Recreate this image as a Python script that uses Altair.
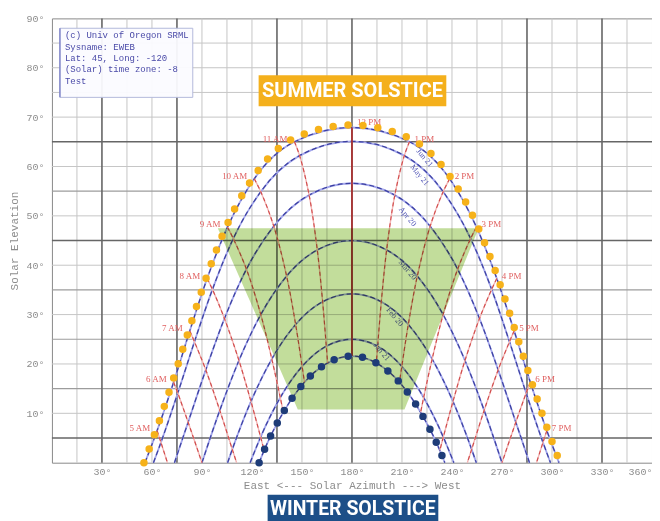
import altair as alt
import pandas as pd

N = None
hour_labels = ["5 AM", "6 AM", "7 AM", "8 AM", "9 AM", "10 AM", "11 AM", "12 PM",
               "1 PM", "2 PM", "3 PM", "4 PM", "5 PM", "6 PM", "7 PM"]
date_labels = ["Jun 21", "May 21", "Apr 20", "Mar 20", "Feb 20", "Jan 21", "Dec 21"]

# sun position (azimuth, elevation) read at each clock hour, per date curve
jun_az = [63.1, 73.0, 82.7, 93.1, 105.3, 121.4, 145.5, 180.0, 214.5, 238.6, 254.7, 266.9, 277.3, 287.0, 296.9]
jun_el = [6.5, 16.3, 26.7, 37.3, 47.7, 57.5, 65.0, 67.9, 65.0, 57.5, 47.7, 37.3, 26.7, 16.3, 6.5]
may_az = [65.4, 75.5, 85.5, 96.3, 108.8, 125.3, 148.6, 180.0, 211.4, 234.7, 251.2, 263.8, 274.5, 284.5, 294.6]
may_el = [4.1, 14.1, 24.5, 35.1, 45.4, 54.9, 62.2, 65.1, 62.2, 54.9, 45.4, 35.1, 24.5, 14.1, 4.1]
apr_az = [N, 81.7, 92.3, 103.5, 116.7, 133.1, 154.3, 180.0, 205.7, 226.9, 243.4, 256.5, 267.7, 278.3, N]
apr_el = [N, 8.2, 18.8, 29.2, 39.2, 47.9, 54.2, 56.6, 54.2, 47.9, 39.2, 29.2, 18.8, 8.2, N]
mar_az = [N, 90.0, 100.7, 112.2, 125.3, 140.8, 159.2, 180.0, 200.8, 219.2, 234.7, 247.8, 259.3, 270.0, N]
mar_el = [N, 0.0, 10.6, 20.7, 30.0, 37.8, 43.1, 45.0, 43.1, 37.8, 30.0, 20.7, 10.6, 0.0, N]
feb_az = [N, N, 108.2, 119.4, 131.9, 146.2, 162.4, 180.0, 197.6, 213.8, 228.1, 240.6, 251.8, N, N]
feb_el = [N, N, 2.7, 12.4, 21.0, 28.0, 32.6, 34.2, 32.6, 28.0, 21.0, 12.4, 2.7, N, N]
jan_az = [N, N, N, 125.2, 137.0, 150.1, 164.6, 180.0, 195.4, 209.9, 223.0, 234.8, N, N, N]
jan_el = [N, N, N, 5.2, 13.2, 19.5, 23.6, 25.0, 23.6, 19.5, 13.2, 5.2, N, N, N]
dec_az = [N, N, N, 127.3, 138.8, 151.5, 165.4, 180.0, 194.6, 208.5, 221.2, 232.7, N, N, N]
dec_el = [N, N, N, 2.5, 10.2, 16.3, 20.2, 21.6, 20.2, 16.3, 10.2, 2.5, N, N, N]

# where each date curve meets the horizon
sunrise_az = [55.8, 60.9, 73.5, N, 105.4, 118.9, 124.3]
sunset_az = [304.2, 299.1, 286.5, N, 254.6, 241.1, 235.7]
# where an hour line meets the horizon
horizon_az = [69.3, N, 110.8, N, N, N, N, N, N, N, N, N, 249.2, N, 290.7]

# dotted solstice highlight paths
summer_dot_az = [55.2, 62.6, 72.5, 82.3, 92.7, 104.9, 121.0, 145.3, 180.0, 214.7, 239.0, 255.1, 267.3, 277.7, 287.5, 297.4, 304.8]
summer_dot_el = [0.0, 6.7, 16.6, 27.0, 37.6, 48.1, 57.9, 65.7, 68.4, 65.7, 57.9, 48.1, 37.6, 27.0, 16.6, 6.7, 0.0]

# green window region
green_az = [99.5, 147.5, 211.5, 256.0]
green_top = [47.5, 47.5, 47.5, 47.5]
green_bottom = [47.5, 10.8, 10.8, 47.5]

# date curve labels
curve_label_text = ["Jun 21", "May 21", "Apr 20", "Mar 20", "Feb 20", "Jan 21"]
curve_label_az = [223.4, 220.4, 213.2, 213.2, 205.5, 197.7]
curve_label_el = [61.7, 58.2, 49.8, 39.0, 29.5, 22.4]

# grid
grid_az_light = [15, 45, 60, 90, 105, 120, 150, 165, 195, 210, 225, 240, 255, 270, 300, 315, 345]
grid_az_dark = [30, 75, 135, 180, 285, 330]
grid_el_light = [10, 20, 30, 40, 50, 60, 70, 75, 80, 85]
grid_el_medium = [15, 25, 35, 55]
grid_el_dark = [5, 45, 65]

# info box
info_lines = ["(c) Univ of Oregon SRML", "Sysname: EWEB", "Lat: 45, Long: -120",
              "(Solar) time zone: -8", "Test"]
info_line_el = [86.6, 84.3, 82.0, 79.7, 77.4]
info_box = {"az": 4.8, "az2": 84.5, "el": 74.0, "el2": 88.0}

# banners
banner_text = ["SUMMER SOLSTICE", "WINTER SOLSTICE"]
banner_size = [20, 19.5]
banner_az = [124.0, 129.4]
banner_az2 = [236.6, 231.8]
banner_el = [72.2, -12.5]
banner_el2 = [78.5, -6.5]
banner_text_az = [180.3, 180.5]
banner_text_el = [75.35, -9.3]

series = [jun_az, may_az, apr_az, mar_az, feb_az, jan_az, dec_az]
series_el = [jun_el, may_el, apr_el, mar_el, feb_el, jan_el, dec_el]

curve_rows = []
for i, name in enumerate(date_labels):
    if sunrise_az[i] is not None:
        curve_rows.append({"date": name, "az": sunrise_az[i], "el": 0.0})
    for j in range(len(hour_labels)):
        if series[i][j] is not None:
            curve_rows.append({"date": name, "az": series[i][j], "el": series_el[i][j]})
    if sunset_az[i] is not None:
        curve_rows.append({"date": name, "az": sunset_az[i], "el": 0.0})
curves = pd.DataFrame(curve_rows)

hour_rows = []
for j, h in enumerate(hour_labels):
    for i in range(len(date_labels)):
        if series[i][j] is not None:
            hour_rows.append({"hour": h, "order": i, "az": series[i][j], "el": series_el[i][j]})
    if horizon_az[j] is not None:
        hour_rows.append({"hour": h, "order": 7, "az": horizon_az[j], "el": 0.0})
hours = pd.DataFrame(hour_rows)

labels = pd.DataFrame({"hour": hour_labels, "az": jun_az, "el": jun_el,
                       "side": ["AM"] * 7 + ["NOON"] + ["PM"] * 7})
summer_dots = pd.DataFrame({"az": summer_dot_az, "el": summer_dot_el})
green = pd.DataFrame({"az": green_az, "el": green_top, "el2": green_bottom})
curve_labels = pd.DataFrame({"t": curve_label_text, "az": curve_label_az, "el": curve_label_el})
info = pd.DataFrame({"t": info_lines, "az": [7.8] * len(info_lines), "el": info_line_el})
banners = pd.DataFrame({"t": banner_text, "az": banner_az, "az2": banner_az2,
                        "el": banner_el, "el2": banner_el2,
                        "taz": banner_text_az, "tel": banner_text_el})

GREY = "#8c8c8c"
MONO = "Liberation Mono"
xscale = alt.Scale(domain=[0, 360], nice=False, zero=False)
yscale = alt.Scale(domain=[0, 90], nice=False, zero=False)
xaxis = alt.Axis(values=list(range(30, 361, 30)), labelExpr="datum.value + '°'", grid=False,
                 ticks=False, domain=False, labelFont=MONO, labelFontSize=10, labelColor=GREY,
                 labelPadding=4, labelFlush=True, labelOverlap=False,
                 title="East <--- Solar Azimuth ---> West", titleFont=MONO,
                 titleFontSize=11, titleFontWeight="normal", titleColor=GREY, titlePadding=3)
yaxis = alt.Axis(values=list(range(10, 91, 10)), labelExpr="datum.value + '°'", grid=False,
                 ticks=False, domain=False, labelFont=MONO, labelFontSize=10, labelColor=GREY,
                 labelPadding=8, labelFlush=False, title="Solar Elevation", titleFont=MONO,
                 titleFontSize=11, titleFontWeight="normal", titleColor=GREY, titlePadding=6)


def X(field="az"):
    return alt.X(f"{field}:Q", scale=xscale, axis=xaxis)


def Y(field="el"):
    return alt.Y(f"{field}:Q", scale=yscale, axis=yaxis)


def vgrid(vals, color, w):
    return alt.Chart(pd.DataFrame({"az": vals})).mark_rule(color=color, strokeWidth=w).encode(x=X())


def hgrid(vals, color, w):
    return alt.Chart(pd.DataFrame({"el": vals})).mark_rule(color=color, strokeWidth=w).encode(y=Y())


layers = [
    vgrid(grid_az_light, "#c6c6c6", 1),
    hgrid(grid_el_light, "#c6c6c6", 1),
    hgrid(grid_el_medium, "#9c9c9c", 1.2),
    vgrid(grid_az_dark, "#666666", 1.6),
    hgrid(grid_el_dark, "#666666", 1.6),
]

base_c = alt.Chart(curves).encode(x=X(), y=Y(), detail="date:N")
layers.append(base_c.mark_line(color="#a3a6ec", strokeWidth=1.8, interpolate="monotone"))
layers.append(base_c.mark_line(color="#3c40a0", strokeWidth=1.2, strokeDash=[5, 3], interpolate="monotone"))

base_h = alt.Chart(hours).encode(x=X(), y=Y(), detail="hour:N", order=alt.Order("order:Q"))
layers.append(base_h.transform_filter("datum.hour != '12 PM'").mark_line(
    color="#f2b4b4", strokeWidth=1.4, interpolate="catmull-rom"))
layers.append(base_h.transform_filter("datum.hour != '12 PM'").mark_line(
    color="#d04a4a", strokeWidth=1.1, strokeDash=[4, 3], interpolate="catmull-rom"))
layers.append(base_h.transform_filter("datum.hour == '12 PM'").mark_line(
    color="#b02a2a", strokeWidth=1.6))

layers.append(alt.Chart(curve_labels).mark_text(angle=50, font="Liberation Serif", fontSize=8,
                                                color="#5458b8").encode(x=X(), y=Y(), text="t:N"))

layers.append(alt.Chart(green).mark_area(color="#c2dd9b", blend="multiply", opacity=1,
                                         interpolate="linear").encode(x=X(), y=Y(), y2="el2:Q"))

lab = alt.Chart(labels).encode(x=X(), y=Y(), text="hour:N")
layers.append(lab.transform_filter("datum.side == 'AM'").mark_text(
    align="right", dx=-7, dy=-3, font="Liberation Serif", fontSize=9, color="#e06060"))
layers.append(lab.transform_filter("datum.side == 'PM'").mark_text(
    align="left", dx=5, dy=-3, font="Liberation Serif", fontSize=9, color="#e06060"))
layers.append(lab.transform_filter("datum.side == 'NOON'").mark_text(
    align="left", dx=5, dy=-5, font="Liberation Serif", fontSize=9, color="#e06060"))

layers.append(alt.Chart(pd.DataFrame([info_box])).mark_rect(
    fill="#fbfbff", fillOpacity=0.95, stroke="#b4badb", strokeWidth=1).encode(
    x=X(), x2="az2:Q", y=Y(), y2="el2:Q"))
layers.append(alt.Chart(pd.DataFrame([info_box])).mark_rule(color="#7076c4", strokeWidth=1.2).encode(
    x=X(), y=Y(), y2="el2:Q"))
layers.append(alt.Chart(info).mark_text(align="left", baseline="middle", font=MONO, fontSize=9,
                                        color="#4a4aa8").encode(x=X(), y=Y(), text="t:N"))

layers.append(alt.Chart(summer_dots).mark_line(
    color="#f6b21a", strokeWidth=7.5, strokeDash=[0, 15], strokeCap="round",
    interpolate="monotone").encode(x=X(), y=Y()))
layers.append(alt.Chart(curves).transform_filter("datum.date == 'Dec 21'").mark_line(
    color="#1e3c78", strokeWidth=7.5, strokeDash=[0, 14.5], strokeCap="round",
    interpolate="monotone").encode(x=X(), y=Y()))

banner_colors = alt.Scale(domain=banner_text, range=["#f4b01c", "#1d4f88"])
layers.append(alt.Chart(banners).mark_rect().encode(
    x=X(), x2="az2:Q", y=Y(), y2="el2:Q", color=alt.Color("t:N", scale=banner_colors, legend=None)))
for k in range(2):
    layers.append(alt.Chart(banners.iloc[[k]]).mark_text(
        font="Roboto", fontWeight="bold", fontSize=banner_size[k],
        color="white", baseline="middle").encode(x=X("taz"), y=Y("tel"), text="t:N"))

chart = alt.layer(*layers).properties(
    width=601, height=445,
    padding={"left": 44, "top": 10, "right": 0, "bottom": 58},
    autosize=alt.AutoSizeParams(type="none"),
    background="white",
).configure_view(stroke="#8a8a8a", strokeWidth=1)

chart.save("out.html", embed_options={"renderer": "svg", "actions": False})
